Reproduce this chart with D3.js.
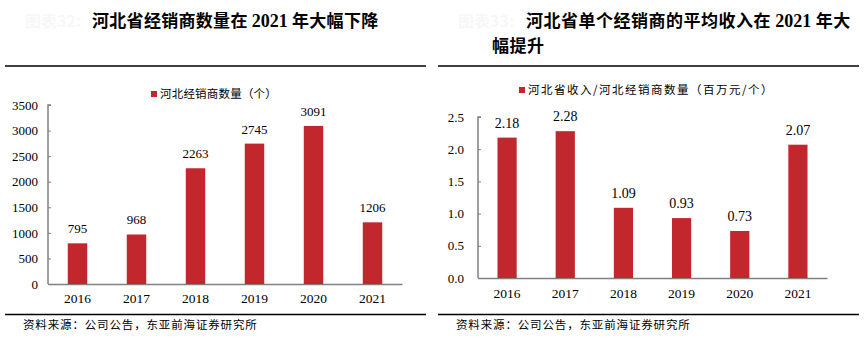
<!DOCTYPE html>
<html>
<head>
<meta charset="utf-8">
<script src="https://cdn.jsdelivr.net/npm/d3@7"></script>
<style>
  body { margin: 0; background: #fff; }
  svg { display: block; }
</style>
</head>
<body>
<script>
const width = 866;
const height = 339;

// 河北省经销商数量
const years = ["2016", "2017", "2018", "2019", "2020", "2021"];
const dealerCount = [795, 968, 2263, 2745, 3091, 1206];
const countTicks = [0, 500, 1000, 1500, 2000, 2500, 3000, 3500];

// 单个经销商平均收入（百万元/个）
const avgRevenue = [2.18, 2.28, 1.09, 0.93, 0.73, 2.07];
const revenueTicks = [0, 0.5, 1.0, 1.5, 2.0, 2.5];

const barColor = "#c1272d";
const axisColor = "#808080";
const serif = "'Liberation Serif', 'Times New Roman', serif";
const cjk = "'Noto Sans CJK SC', sans-serif";

let svg = d3.select("body").append("svg")
    .attr("width", width)
    .attr("height", height);

function panel(opts) {
    let g = svg.append("g");

    // 标题区
    g.append("text")
        .attr("x", opts.left + 20)
        .attr("y", 27)
        .style("font-family", cjk)
        .style("font-size", "16px")
        .style("font-weight", "bold")
        .attr("fill", "#f7f7f7")
        .text(opts.figNo);

    opts.title.forEach((t, i) => {
        let line = g.append("text")
            .attr("x", i === 0 ? opts.titleX : opts.titleX2)
            .attr("y", 27 + i * 25)
            .style("font-family", cjk)
            .style("font-size", "17px")
            .style("font-weight", "bold")
            .style("letter-spacing", opts.titleSpacing + "px")
            .attr("fill", "#000");
        // 数字用衬线体
        t.split(/(\d+)/).filter(s => s.length).forEach(s => {
            line.append("tspan")
                .style("font-family", /\d/.test(s) ? serif : cjk)
                .style("font-size", /\d/.test(s) ? "18px" : "17px")
                .style("letter-spacing", /\d/.test(s) ? "0px" : null)
                .text(s);
        });
    });

    [66, 314.5].forEach(y => {
        g.append("line")
            .attr("x1", opts.left).attr("x2", opts.left + 421)
            .attr("y1", y).attr("y2", y)
            .attr("stroke", "#000")
            .attr("stroke-width", 1.6);
    });

    g.append("text")
        .attr("x", opts.left + 18)
        .attr("y", 329)
        .style("font-family", cjk)
        .style("font-size", "11.5px")
        .style("letter-spacing", "0.85px")
        .attr("fill", "#000")
        .text("资料来源：公司公告，东亚前海证券研究所");

    // 图例
    g.append("rect")
        .attr("x", opts.legendX).attr("y", opts.legendY - 3)
        .attr("width", 6).attr("height", 6)
        .attr("fill", barColor);
    g.append("text")
        .attr("x", opts.legendX + 9)
        .attr("y", opts.legendY + 4)
        .style("font-family", cjk)
        .style("font-size", "11.5px")
        .style("letter-spacing", opts.legendSpacing + "px")
        .attr("fill", "#000")
        .text(opts.legend);

    // 坐标轴
    let xScale = d3.scaleBand()
        .domain(years)
        .range([opts.x0, opts.x1])
        .paddingInner(0.67)
        .paddingOuter(0.335);

    let yScale = d3.scaleLinear()
        .domain([0, d3.max(opts.ticks)])
        .range([opts.y0, opts.y1]);

    let yAxis = g.append("g")
        .attr("transform", `translate(${opts.x0},0)`)
        .call(d3.axisRight(yScale)
            .tickValues(opts.ticks)
            .tickSize(3)
            .tickFormat(opts.fmt));
    yAxis.select(".domain")
        .attr("d", `M3,${opts.y1}H0V${opts.y0}`)
        .attr("stroke", axisColor).attr("stroke-width", 1.5);
    yAxis.selectAll(".tick line").attr("stroke", axisColor);
    yAxis.selectAll(".tick text")
        .attr("x", opts.labelRight - opts.x0)
        .attr("text-anchor", "end")
        .style("font-family", serif)
        .style("font-size", "13px")
        .attr("fill", "#000");

    let xAxis = g.append("g")
        .attr("transform", `translate(0,${opts.y0})`)
        .call(d3.axisBottom(xScale).tickSize(0).tickPadding(opts.xPad));
    xAxis.select(".domain").attr("stroke", axisColor).attr("stroke-width", 1.5);
    xAxis.selectAll(".tick text")
        .style("font-family", serif)
        .style("font-size", "13.5px")
        .attr("fill", "#000");

    // 柱子
    g.selectAll(".bar")
        .data(opts.values)
        .enter()
        .append("rect")
        .attr("class", "bar")
        .attr("x", (d, i) => xScale(years[i]))
        .attr("y", d => yScale(d))
        .attr("width", xScale.bandwidth())
        .attr("height", d => opts.y0 - yScale(d))
        .attr("fill", barColor);

    g.selectAll(".val")
        .data(opts.values)
        .enter()
        .append("text")
        .attr("class", "val")
        .attr("x", (d, i) => xScale(years[i]) + xScale.bandwidth() / 2)
        .attr("y", d => yScale(d) - 10)
        .attr("text-anchor", "middle")
        .style("font-family", serif)
        .style("font-size", opts.valSize)
        .attr("fill", "#000")
        .text(opts.valFmt);

    g.select(".domain").raise();
}

panel({
    left: 5,
    figNo: "图表32:",
    title: ["河北省经销商数量在 2021 年大幅下降"],
    titleX: 92,
    titleSpacing: 0.3,
    legend: "河北经销商数量（个）",
    legendSpacing: 0.2,
    legendX: 151, legendY: 94,
    values: dealerCount,
    ticks: countTicks,
    fmt: d3.format("d"),
    valFmt: d3.format("d"),
    valSize: "13px",
    x0: 48, x1: 402, y0: 284, y1: 105,
    labelRight: 38,
    xPad: 9
});

panel({
    left: 438,
    figNo: "图表33:",
    title: ["河北省单个经销商的平均收入在 2021 年大", "幅提升"],
    titleX: 526, titleX2: 492,
    titleSpacing: 0.5,
    legend: "河北省收入/河北经销商数量（百万元/个）",
    legendSpacing: 1.5,
    legendX: 519, legendY: 90,
    values: avgRevenue,
    ticks: revenueTicks,
    fmt: d3.format(".1f"),
    valFmt: d3.format(".2f"),
    valSize: "14px",
    x0: 478, x1: 827, y0: 278, y1: 117,
    labelRight: 464,
    xPad: 10
});
</script>
</body>
</html>
